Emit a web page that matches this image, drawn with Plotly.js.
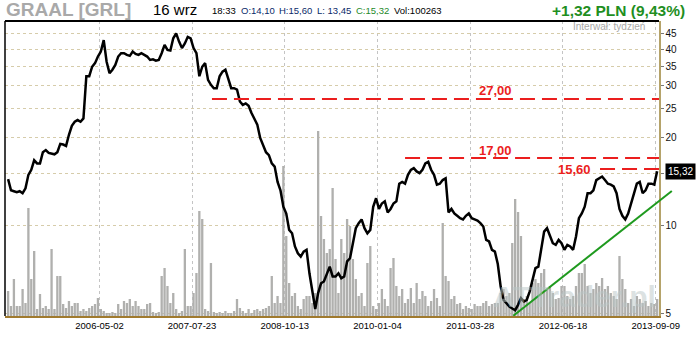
<!DOCTYPE html>
<html><head><meta charset="utf-8">
<script src="https://cdn.plot.ly/plotly-3.0.1.min.js"></script>
<style>html,body{margin:0;padding:0;background:#fff}#chart{width:700px;height:340px}</style>
</head><body><div id="chart"></div>
<script>
// weekly chart, sampled every two weeks
const firstWeek = '2005-02-14';
const stepDays = 14;
const closePrice = [
14.4,13.2,13.1,13.0,13.1,12.9,13.4,14.9,15.5,16.7,16.3,16.3,17.8,18.1,17.7,17.6,17.5,17.8,19.0,18.9,
18.7,20.4,21.9,22.6,22.9,22.6,23.2,32.3,32.3,34.8,35.8,37.7,39.2,42.9,36.2,33.1,34.0,35.3,37.7,38.7,
38.7,38.2,37.9,39.2,38.5,38.2,38.7,38.2,37.7,36.7,36.9,36.5,36.7,38.7,41.3,39.7,39.5,43.5,45.2,42.4,
40.3,41.8,44.0,43.5,40.3,38.7,32.3,34.8,35.8,31.4,30.2,29.4,29.4,32.3,33.5,34.0,31.4,29.4,29.4,29.1,
26.5,25.8,26.1,25.6,24.2,23.2,22.1,19.9,18.9,17.8,17.4,16.3,15.9,14.1,13.2,11.6,11.0,9.67,9.42,8.49,
8.05,7.84,8.16,8.27,6.88,5.89,5.2,5.89,6.36,6.45,6.88,7.25,6.71,6.71,6.88,6.62,6.71,7.55,7.74,8.71,
9.80,10.2,10.5,9.80,9.42,9.67,11.6,12.4,11.4,11.9,12.1,11.1,11.4,11.9,12.1,13.9,14.1,13.9,14.9,15.5,
15.7,15.3,15.1,15.5,16.3,16.5,15.5,14.9,13.8,13.9,14.3,14.5,11.1,11.4,11.0,10.8,10.6,10.5,10.8,11.0,
10.6,10.5,10.4,10.2,9.93,8.94,8.83,8.27,8.16,7.4,6.20,5.58,5.44,5.30,5.22,5.15,5.37,5.66,5.51,5.58,
5.96,6.62,7.16,7.25,8.27,9.54,9.80,9.18,8.71,8.60,8.94,8.71,8.27,8.60,8.49,8.27,9.18,10.6,11.0,11.6,
12.9,12.9,13.2,14.3,14.5,14.7,14.3,13.9,13.8,13.6,12.9,11.4,10.8,10.5,11.0,11.9,12.7,13.9,14.1,12.9,
13.2,13.9,13.9,13.8,15.32];
// volume, thousands of shares
const volume = [
25,10,37,10,10,27,13,108,37,65,7,22,8,10,7,67,7,40,40,12,8,15,10,13,13,5,7,5,8,10,
12,18,7,5,3,3,4,3,12,7,15,13,17,10,15,10,7,7,12,13,4,3,4,40,48,30,13,
23,7,3,5,67,10,10,23,43,105,97,7,5,53,4,3,4,3,5,3,3,5,17,8,5,3,7,3,6,7,5,7,8,10,
40,13,20,13,150,80,33,20,23,10,7,17,20,20,13,23,185,100,77,63,67,128,
57,23,77,63,97,90,57,37,20,23,10,53,70,10,7,13,27,17,10,48,58,30,20,27,13,17,28,13,33,17,
25,20,10,15,27,18,10,93,40,35,17,20,12,13,7,10,8,7,12,10,10,13,15,10,12,13,
13,23,27,20,23,73,117,104,80,17,20,13,33,37,33,43,47,27,30,23,17,18,30,30,20,17,20,30,43,43,
52,30,23,27,33,30,38,27,30,23,20,17,60,37,27,13,17,10,20,17,13,15,10,13,12,17];
const tickDates = ['2006-05-02','2007-07-23','2008-10-13','2010-01-04','2011-03-28','2012-06-18','2013-09-09'];
const priceTicks = [5,10,15,20,25,30,35,40,45];
const priceTickText = ['5','10','','20','25','30','35','40','45'];
const levels = [27.00, 17.00, 15.60];
const levelStart = ['2007-10-27','2010-05-17','2012-12-14'];
const levelLabels = ['27,00','17,00','15,60'];
const trendDates = ['2011-10-22','2013-11-26'];
const trendPrices = [4.93, 13.13];
const lastClose = 15.32;
const xRange = ['2005-01-30','2013-09-25'];

const t0 = Date.parse(firstWeek);
const dates = closePrice.map((_, k) => new Date(t0 + k*stepDays*864e5).toISOString().slice(0,10));
const toPaperX = d => (Date.parse(d)-Date.parse(xRange[0]))/(Date.parse(xRange[1])-Date.parse(xRange[0]));

const red = 'rgb(235,30,30)';
const traces = [
  {type:'bar', x:dates, y:volume, yaxis:'y', marker:{color:'#b0b0ae', line:{width:0}}, hoverinfo:'skip'},
  {type:'scatter', mode:'lines', x:dates, y:closePrice, yaxis:'y2', line:{color:'#000', width:2.5}}
];
levels.forEach((v,i)=>{
  traces.push({type:'scatter', mode:'lines', x:[levelStart[i], xRange[1]], y:[v,v], yaxis:'y2',
    line:{color:red, width:2, dash:'15px,7px'}, hoverinfo:'skip'});
});

const font = 'Liberation Sans, Arial, sans-serif';
const ann = [
  {xref:'paper', yref:'paper', x:-0.002, y:1.038, xanchor:'left', yanchor:'middle', text:'<b>GRAAL [GRL]</b>', showarrow:false, font:{family:font, size:19, color:'#a9a9a9'}},
  {xref:'paper', yref:'paper', x:0.224, y:1.04, xanchor:'left', yanchor:'middle', text:'16 wrz', showarrow:false, font:{family:font, size:15, color:'#000'}},
  {xref:'paper', yref:'paper', x:0.313, y:1.034, xanchor:'left', yanchor:'middle', text:'18:33', showarrow:false, font:{family:font, size:9.5, color:'#000'}},
  {xref:'paper', yref:'paper', x:0.358, y:1.034, xanchor:'left', yanchor:'middle', text:'O:14,10', showarrow:false, font:{family:font, size:9.5, color:'#0a2a6a'}},
  {xref:'paper', yref:'paper', x:0.416, y:1.034, xanchor:'left', yanchor:'middle', text:'H:15,60', showarrow:false, font:{family:font, size:9.5, color:'#0a2a6a'}},
  {xref:'paper', yref:'paper', x:0.474, y:1.034, xanchor:'left', yanchor:'middle', text:'L: 13,45', showarrow:false, font:{family:font, size:9.5, color:'#0a2a6a'}},
  {xref:'paper', yref:'paper', x:0.534, y:1.034, xanchor:'left', yanchor:'middle', text:'C:15,32', showarrow:false, font:{family:font, size:9.5, color:'#1d8a2a'}},
  {xref:'paper', yref:'paper', x:0.592, y:1.034, xanchor:'left', yanchor:'middle', text:'Vol:100263', showarrow:false, font:{family:font, size:9.5, color:'#000'}},
  {xref:'paper', yref:'paper', x:1.043, y:1.037, xanchor:'right', yanchor:'middle', text:'<b>+1,32 PLN (9,43%)</b>', showarrow:false, font:{family:font, size:15.5, color:'#1f8f1f'}},
  {xref:'paper', yref:'paper', x:0.982, y:0.982, xanchor:'right', yanchor:'middle', text:'Interwał: tydzień', showarrow:false, font:{family:font, size:10, color:'#a8a8a8'}},
  {xref:'paper', yref:'paper', x:0.999, y:0.005, xanchor:'right', yanchor:'bottom', text:'<b>ATTrader.pl</b>', showarrow:false, font:{family:font, size:30, color:'rgba(185,198,198,0.5)'}},
  {xref:'paper', yref:'y2', x:1.009, y:Math.log10(lastClose), xanchor:'left', yanchor:'middle', text:'15,32', showarrow:false, bgcolor:'#000', borderpad:2, font:{family:font, size:10, color:'#fff'}},
  {xref:'x', yref:'y2', x:'2011-07-26', y:Math.log10(levels[0]), yshift:9, xanchor:'center', yanchor:'middle', text:'<b>'+levelLabels[0]+'</b>', showarrow:false, font:{family:font, size:13, color:red}},
  {xref:'x', yref:'y2', x:'2011-07-26', y:Math.log10(levels[1]), yshift:8, xanchor:'center', yanchor:'middle', text:'<b>'+levelLabels[1]+'</b>', showarrow:false, font:{family:font, size:13, color:red}},
  {xref:'x', yref:'y2', x:levelStart[2], y:Math.log10(levels[2]), yshift:-1, xshift:-7, xanchor:'right', yanchor:'middle', text:'<b>'+levelLabels[2]+'</b>', showarrow:false, font:{family:font, size:13, color:red}}
];

const layout = {
  width:700, height:340,
  margin:{l:5, r:41, t:21, b:24},
  paper_bgcolor:'#fff', plot_bgcolor:'#fff',
  showlegend:false, bargap:0.2,
  font:{family:font, size:10, color:'#000'},
  xaxis:{type:'date', range:xRange, tickvals:tickDates, ticktext:tickDates, showgrid:true,
    gridcolor:'#c4c4c4', griddash:'dot', gridwidth:1, showline:true, linecolor:'#a07a2e', linewidth:1.5,
    ticks:'', zeroline:false, tickfont:{family:font, size:9.5, color:'#000'}, fixedrange:true},
  yaxis:{range:[0,295], visible:false, showgrid:false, zeroline:false, fixedrange:true},
  yaxis2:{type:'log', overlaying:'y', side:'right', range:[0.692,1.6975], tickvals:priceTicks, ticktext:priceTickText,
    showgrid:true, gridcolor:'#d6ccaa', griddash:'dot', gridwidth:1, showline:true, linecolor:'#b5a36a', linewidth:1.5,
    ticks:'outside', ticklen:3, tickcolor:'#777', tickfont:{family:font, size:10, color:'#111'}, zeroline:false, fixedrange:true},
  shapes:[
    {type:'line', xref:'paper', yref:'paper', x0:0, x1:1, y0:1, y1:1, line:{color:'#000', width:2}},
    {type:'line', xref:'paper', yref:'paper', x0:0, x1:0, y0:0, y1:1, line:{color:'#000', width:1.5}},
    {type:'line', xref:'paper', yref:'y2', x0:toPaperX(trendDates[0]), x1:toPaperX(trendDates[1]),
      y0:trendPrices[0], y1:trendPrices[1], line:{color:'#1e9a1e', width:2}}
  ],
  annotations:ann
};
Plotly.newPlot('chart', traces, layout, {displayModeBar:false, staticPlot:true});
</script></body></html>
